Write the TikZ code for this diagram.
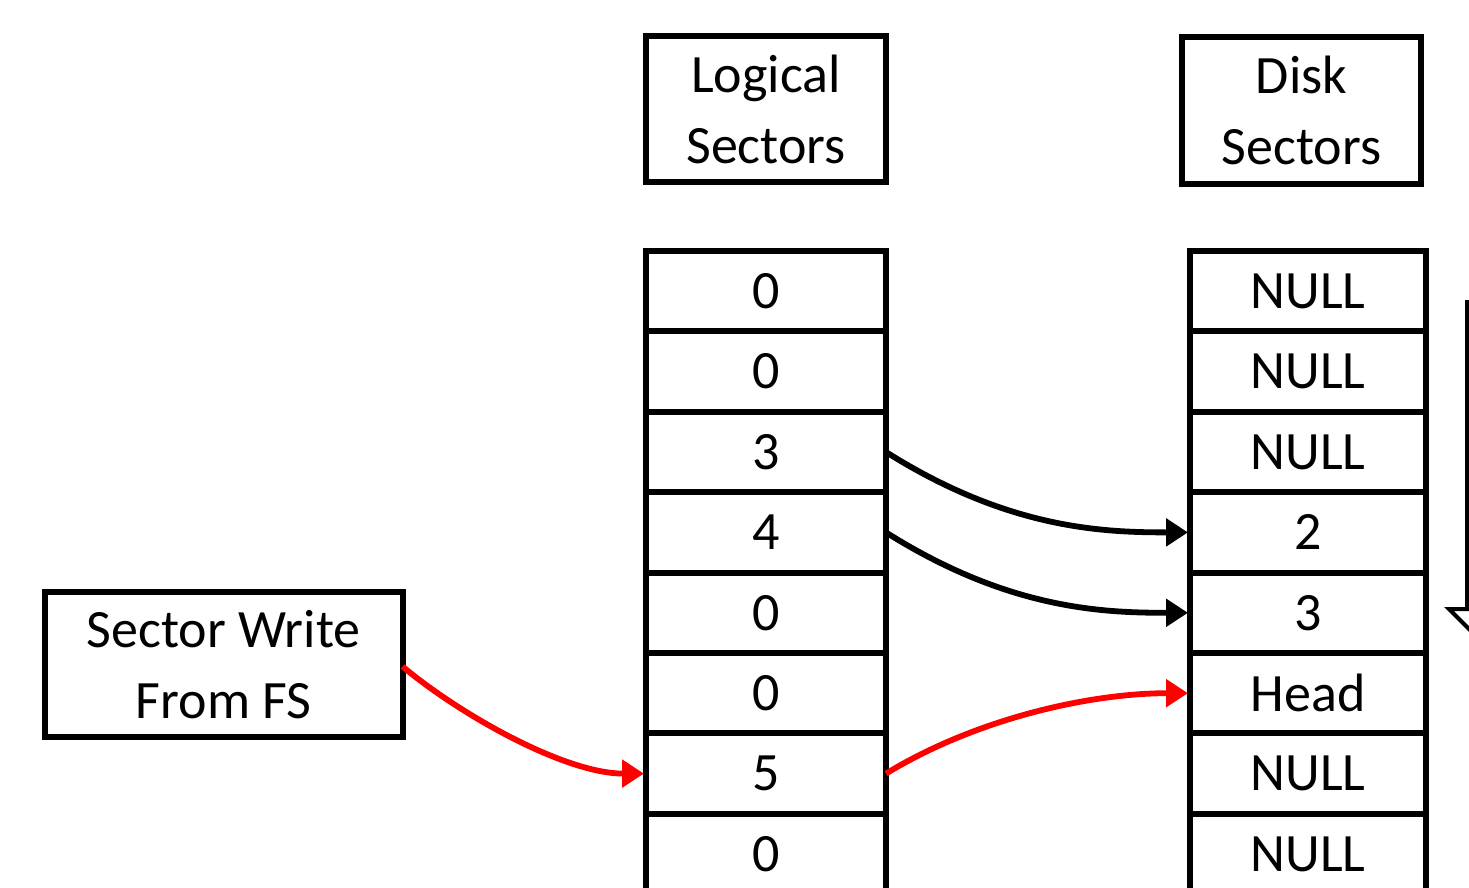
\documentclass[tikz,border=0pt]{standalone}
\usepackage{fontspec}
\setmainfont{Carlito}
\usetikzlibrary{arrows.meta}
\tikzset{
  cell/.style={draw, line width=3pt, minimum height=40.2pt, inner sep=0pt, outer sep=0pt,
    font=\fontsize{27}{35.5}\selectfont},
  lcell/.style={cell, minimum width=120pt},
  dcell/.style={cell, minimum width=118pt},
  hdr/.style={draw, line width=3pt, inner sep=0pt, outer sep=0pt, align=center,
    font=\fontsize{27}{35.5}\selectfont},
  blk/.style={line width=2.9pt, -{Triangle[length=11pt,width=13.5pt]}, shorten >=1pt},
  redarr/.style={blk, draw=red},
}
\begin{document}
\begin{tikzpicture}[x=0.5pt, y=-0.5pt]
\useasboundingbox (0,0) rectangle (1469,888);
\clip (0,0) rectangle (1469,888);
% header boxes
\node[hdr, minimum width=120pt, minimum height=72.75pt] (lhead) at (766,109.25) {Logical\\Sectors};
\node[hdr, minimum width=119.5pt, minimum height=73.5pt] (dhead) at (1301.5,110.5) {Disk\\Sectors};
\node[hdr, minimum width=179pt, minimum height=72.5pt] (src) at (223.5,664.5) {Sector Write\\From FS};
% logical column
\node[lcell] (l1) at (766,291.2) {0};
\node[lcell] (l2) at (766,371.6) {0};
\node[lcell] (l3) at (766,452.0) {3};
\node[lcell] (l4) at (766,532.4) {4};
\node[lcell] (l5) at (766,612.8) {0};
\node[lcell] (l6) at (766,693.2) {0};
\node[lcell] (l7) at (766,773.6) {5};
\node[lcell] (l8) at (766,854.0) {0};
% disk column
\node[dcell] (d1) at (1308,291.2) {NULL};
\node[dcell] (d2) at (1308,371.6) {NULL};
\node[dcell] (d3) at (1308,452.0) {NULL};
\node[dcell] (d4) at (1308,532.4) {2};
\node[dcell] (d5) at (1308,612.8) {3};
\node[dcell] (d6) at (1308,693.2) {Head};
\node[dcell] (d7) at (1308,773.6) {NULL};
\node[dcell] (d8) at (1308,854.0) {NULL};
% connectors
\draw[blk] (l3.east) .. controls +(122,77) and +(-87,0) .. (d4.west);
\draw[blk] (l4.east) .. controls +(122,77) and +(-87,0) .. (d5.west);
\draw[redarr] ([yshift=-1pt]src.east) .. controls +(60,50) and +(-80,0) .. (l7.west);
\draw[redarr] (l7.east) .. controls +(90,-55) and +(-100,0) .. (d6.west);
% partially visible block arrow at right edge
\draw[line width=2pt] (1480,302) -- (1467,302) -- (1467,609) -- (1449,609) -- (1500,660);
\end{tikzpicture}
\end{document}
